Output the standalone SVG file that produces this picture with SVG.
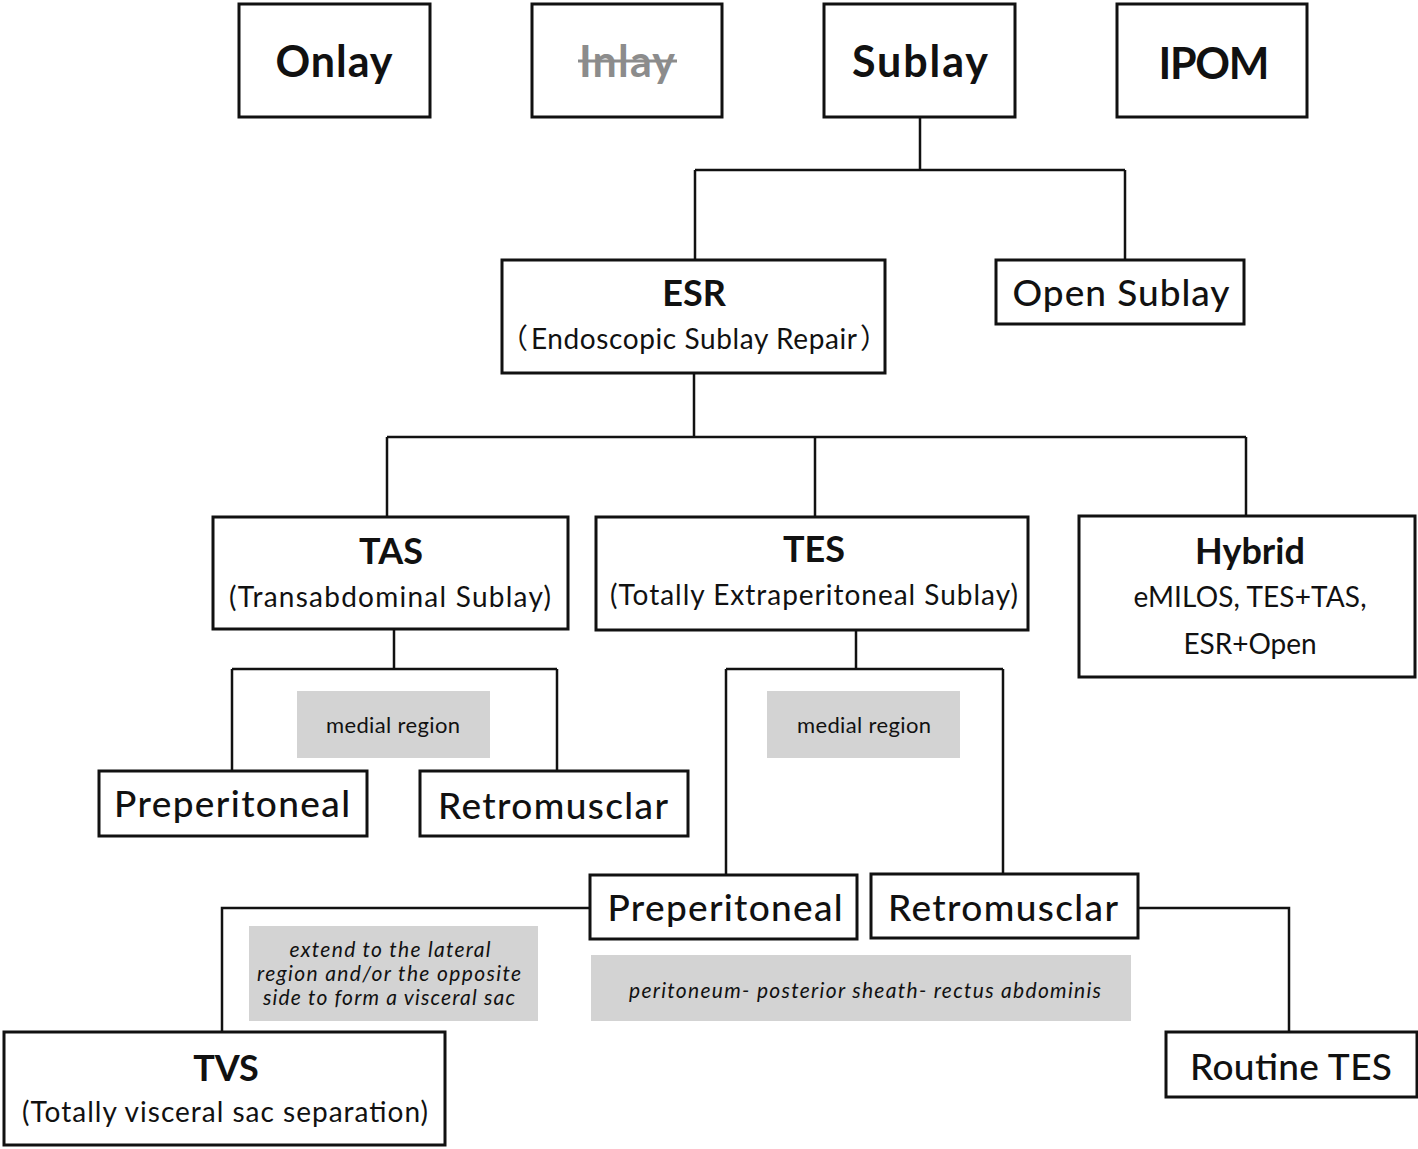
<svg xmlns="http://www.w3.org/2000/svg" width="1418" height="1149" viewBox="0 0 1418 1149">
<style>
.box{fill:#fff;stroke:#111;stroke-width:3}
.note{fill:#d3d3d3;stroke:none}
.wire{fill:none;stroke:#111;stroke-width:2.5}
text{font-family:Lato,"Open Sans","Liberation Sans","Noto Sans CJK JP",sans-serif;fill:#111;text-anchor:middle;dominant-baseline:central}
.h1{font-size:43px;font-weight:700}
.h2{font-size:36px;font-weight:700}
.big{font-size:37px;font-weight:500}
.sub{font-size:28px}
.small{font-size:22px}
.it{font-size:21px;font-style:italic}
.start{text-anchor:start}
</style>
<rect width="1418" height="1149" fill="#fff"/>
<g id="connectors">
<path class="wire" d="M920 117V170M695 170H1125M695 170V260M1125 170V260"/>
<path class="wire" d="M694 373V437M387 437H1246M387 437V517M815 437V517M1246 437V516"/>
<path class="wire" d="M394 629V669M232 669H557M232 669V771M557 669V771"/>
<path class="wire" d="M856 630V669M726 669H1003M726 669V875M1003 669V874"/>
<path class="wire" d="M590 908H222V1032"/>
<path class="wire" d="M1138 908H1289V1032"/>
</g>
<g id="onlay"><rect class="box" x="239" y="4" width="191" height="113"/><text class="h1" x="334" y="60" textLength="117">Onlay</text></g>
<g id="inlay"><rect class="box" x="532" y="4" width="190" height="113"/><text class="h1" x="627" y="60" style="fill:#8c8c8c" textLength="96">Inlay</text><line x1="578" y1="61" x2="677" y2="61" stroke="#8c8c8c" stroke-width="3"/></g>
<g id="sublay"><rect class="box" x="824" y="4" width="191" height="113"/><text class="h1" x="920" y="60" textLength="136">Sublay</text></g>
<g id="ipom"><rect class="box" x="1117" y="4" width="190" height="113"/><text class="h1" x="1214" y="62" textLength="111">IPOM</text></g>
<g id="esr"><rect class="box" x="502" y="260" width="383" height="113"/><text class="h2" x="694" y="292">ESR</text><text class="sub start" x="500" y="338">（</text><text class="sub" x="694" y="338" textLength="326">Endoscopic Sublay Repair</text><text class="sub start" x="860" y="338">）</text></g>
<g id="open-sublay"><rect class="box" x="996" y="260" width="248" height="64"/><text class="big" x="1121" y="291" textLength="217">Open Sublay</text></g>
<g id="tas"><rect class="box" x="213" y="517" width="355" height="112"/><text class="h2" x="391" y="550">TAS</text><text class="sub" x="390" y="596" textLength="322">(Transabdominal Sublay)</text></g>
<g id="tes"><rect class="box" x="596" y="517" width="432" height="113"/><text class="h2" x="814" y="548">TES</text><text class="sub" x="814" y="594" textLength="408">(Totally Extraperitoneal Sublay)</text></g>
<g id="hybrid"><rect class="box" x="1079" y="516" width="336" height="161"/><text class="h2" x="1250" y="550">Hybrid</text><text class="sub" x="1250" y="596" textLength="233">eMILOS, TES+TAS,</text><text class="sub" x="1250" y="643" textLength="133">ESR+Open</text></g>
<g id="note-tas"><rect class="note" x="297" y="691" width="193" height="67"/><text class="small" x="393" y="724" textLength="134">medial region</text></g>
<g id="pre-left"><rect class="box" x="99" y="771" width="268" height="65"/><text class="big" x="232" y="802" textLength="236">Preperitoneal</text></g>
<g id="retro-left"><rect class="box" x="420" y="771" width="268" height="65"/><text class="big" x="553" y="804" textLength="230">Retromusclar</text></g>
<g id="note-tes"><rect class="note" x="767" y="691" width="193" height="67"/><text class="small" x="864" y="724" textLength="134">medial region</text></g>
<g id="pre-tes"><rect class="box" x="590" y="875" width="267" height="64"/><text class="big" x="725" y="906" textLength="235">Preperitoneal</text></g>
<g id="retro-tes"><rect class="box" x="871" y="874" width="267" height="64"/><text class="big" x="1003" y="906" textLength="230">Retromusclar</text></g>
<g id="note-tvs"><rect class="note" x="249" y="926" width="289" height="95"/><text class="it" x="390" y="948" textLength="201">extend to the lateral</text><text class="it" x="389" y="972" textLength="264">region and/or the opposite</text><text class="it" x="389" y="996" textLength="252">side to form a visceral sac</text></g>
<g id="note-layers"><rect class="note" x="591" y="955" width="540" height="66"/><text class="it" x="865" y="989" textLength="472">peritoneum- posterior sheath- rectus abdominis</text></g>
<g id="tvs"><rect class="box" x="4" y="1032" width="441" height="113"/><text class="h2" x="226" y="1067">TVS</text><text class="sub" x="225" y="1111" textLength="406">(Totally visceral sac separation)</text></g>
<g id="routine-tes"><rect class="box" x="1166" y="1032" width="251" height="65"/><text class="big" x="1291" y="1065" textLength="202">Routine TES</text></g>
</svg>
